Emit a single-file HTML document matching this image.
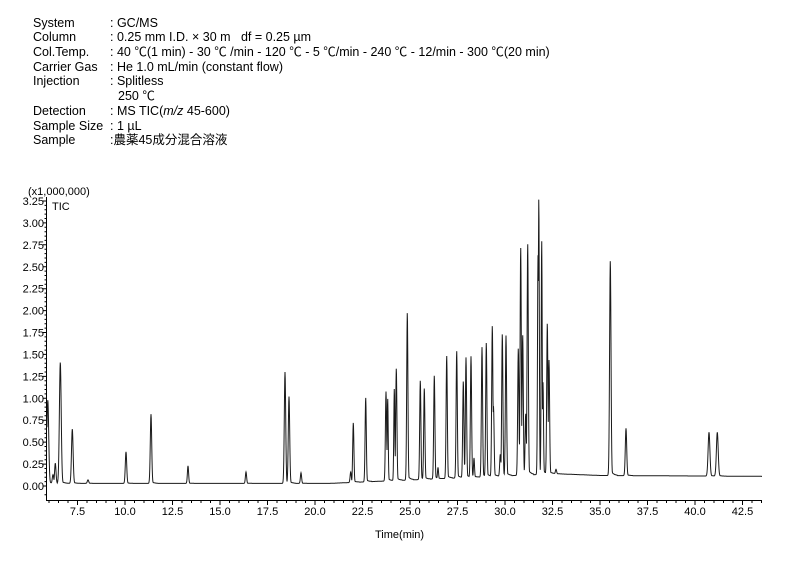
<!DOCTYPE html>
<html><head><meta charset="utf-8"><style>
body{margin:0;background:#fff;width:795px;height:561px;overflow:hidden}
svg{display:block}
text{font-family:"Liberation Sans","Noto Sans CJK JP",sans-serif;fill:#000}
</style></head><body>
<svg id="s" width="795" height="561" xmlns="http://www.w3.org/2000/svg">
<g font-size="12.5">
<text x="33" y="27">System</text><text x="110" y="27">: GC/MS</text>
<text x="33" y="41">Column</text><text x="110" y="41">: 0.25 mm I.D. × 30 m&#160;&#160; df = 0.25 µm</text>
<text x="33" y="56">Col.Temp.</text><text x="110" y="56">: 40 ℃(1 min) - 30 ℃ /min - 120 ℃ - 5 ℃/min - 240 ℃ - 12/min - 300 ℃(20 min)</text>
<text x="33" y="71">Carrier Gas</text><text x="110" y="71">: He 1.0 mL/min (constant flow)</text>
<text x="33" y="85">Injection</text><text x="110" y="85">: Splitless</text>
<text x="118" y="100">250 ℃</text>
<text x="33" y="115">Detection</text><text x="110" y="115">: MS TIC(<tspan font-style="italic">m/z</tspan> 45-600)</text>
<text x="33" y="130">Sample Size</text><text x="110" y="130">: 1 µL</text>
<text x="33" y="144">Sample</text><text x="110" y="144">:農薬45成分混合溶液</text>
</g>
<g font-size="11">
<text x="28" y="195">(x1,000,000)</text>
<text x="52" y="210">TIC</text>
<text x="375" y="538">Time(min)</text>
</g>
<g id="ax" stroke="#000" stroke-width="1" fill="none"></g>
<g id="lb" font-size="11"></g>
<path id="tr" fill="none" stroke="#1a1a1a" stroke-width="1"/>
</svg>
<script>
var ax=document.getElementById('ax'),lb=document.getElementById('lb');
var d='M46.5 197V500.5H762';
function Y(v){return 486-v*87.7}
for(var i=0;i<=13;i++){var v=i*0.25,y=Y(v);d+='M43 '+y.toFixed(1)+'H46.5';
 var t=document.createElementNS('http://www.w3.org/2000/svg','text');t.setAttribute('x',44);t.setAttribute('y',y+4);t.setAttribute('text-anchor','end');t.textContent=v.toFixed(2);lb.appendChild(t);
 for(var k=1;k<5;k++){var yy=Y(v+k*0.05);if(yy>197)d+='M44.5 '+yy.toFixed(1)+'H46.5';}}
d+='M44.5 '+Y(-0.1).toFixed(1)+'H46.5';
function X(t){return 600+(t-35)*19.0}
for(var t=6;t<=43.5;t+=0.5){var x=X(t);if(x<47||x>762)continue;var maj=Math.abs(t/2.5-Math.round(t/2.5))<1e-6;
 d+='M'+x.toFixed(1)+' 500.5V'+(maj?505:503);
 if(maj){var e=document.createElementNS('http://www.w3.org/2000/svg','text');e.setAttribute('x',x);e.setAttribute('y',515);e.setAttribute('text-anchor','middle');e.textContent=t.toFixed(1);lb.appendChild(e);}}
var p=document.createElementNS('http://www.w3.org/2000/svg','path');p.setAttribute('d',d);ax.appendChild(p);
var pk=[[47.8,0.95,0.9],[53,0.1,0.7],[55.3,0.23,0.7],[60.3,1.38,0.9],[72.3,0.62,0.8],[88,0.04,0.7],[126,0.36,0.7],[151,0.79,0.7],[188,0.2,0.6],[246,0.13,0.6],[285,1.27,0.7],[289,0.99,0.7],[301,0.12,0.6],
[350.7,0.12,0.6],[353.3,0.68,0.6],[365.7,0.96,0.6],[386,1.02,0.6],[387.7,0.94,0.5],[394.3,1.05,0.5],[396.3,1.28,0.6],[407.3,1.91,0.6],[420.3,1.13,0.6],[424.3,1.04,0.6],[434.3,1.18,0.6],[438,0.13,0.5],[446.7,1.4,0.6],[456.7,1.45,0.6],[463.3,1.1,0.6],[466,1.37,0.6],[471,1.38,0.6],[474,0.22,0.5],[482,1.48,0.6],[486.3,1.53,0.6],[492.3,1.72,0.6],[493.5,0.8,0.6],[500.3,0.25,0.6],[502.3,1.62,0.6],[506,1.6,0.6],[518.3,1.45,0.6],[520.7,2.6,0.6],[522.7,1.6,0.6],[525.7,0.7,0.6],[527.7,2.64,0.6],[538,2.5,0.5],[538.8,3.15,0.5],[541.7,2.67,0.5],[543,1.05,0.5],[547.3,1.72,0.6],[549,1.3,0.6],[556,0.05,0.6],
[610.3,2.45,0.7],[626,0.54,0.7],[709,0.5,0.9],[717.3,0.5,0.9]];
function base(x){if(x<330)return 0.03;if(x<556)return 0.03+(x-330)/226*0.11;if(x<600)return 0.14-(x-556)/44*0.02;return 0.12-(x-600)/162*0.01}
var s='';for(var x=47;x<=762;x+=0.25){var m=0;for(var i=0;i<pk.length;i++){var q=pk[i],dx=(x-q[0])/q[2];if(Math.abs(dx)<10){var g=q[1]*Math.exp(-dx*dx/2);if(x>q[0])g=Math.max(g,q[1]*0.03*Math.exp(-(x-q[0])/2.5));if(g>m)m=g;}}
 s+=(s?'L':'M')+x.toFixed(2)+' '+Y(base(x)+m).toFixed(1);}
document.getElementById('tr').setAttribute('d',s);
</script>
</body></html>
